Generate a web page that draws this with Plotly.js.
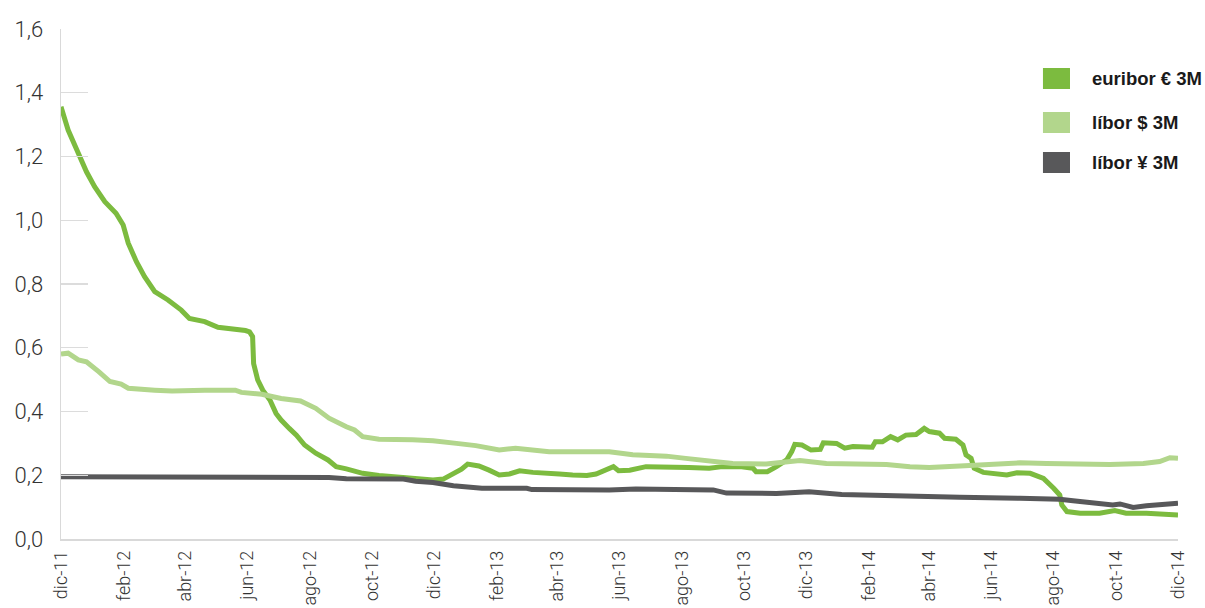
<!DOCTYPE html>
<html>
<head>
<meta charset="utf-8">
<script src="https://cdn.plot.ly/plotly-3.0.1.min.js"></script>
<style>html,body{margin:0;padding:0;background:#fff;}#chart{width:1205px;height:608px;}</style>
</head>
<body>
<div id="chart"></div>
<script>
// ---- Data ----
const seriesNames = ['euribor € 3M', 'líbor $ 3M', 'líbor ¥ 3M'];
const seriesColors = ['#7cbb3f', '#b2d68c', '#58585a'];

const euriborDates = ['2011-12-01','2011-12-08','2011-12-18','2011-12-26','2012-01-03','2012-01-13','2012-01-24','2012-01-31','2012-02-05','2012-02-13','2012-02-21','2012-03-02','2012-03-15','2012-03-28','2012-04-05','2012-04-20','2012-05-03','2012-05-16','2012-05-30','2012-06-03','2012-06-06','2012-06-07','2012-06-11','2012-06-16','2012-06-23','2012-06-29','2012-07-04','2012-07-12','2012-07-19','2012-07-27','2012-08-07','2012-08-19','2012-08-27','2012-09-06','2012-09-22','2012-10-08','2012-10-25','2012-11-13','2012-11-30','2012-12-10','2012-12-20','2012-12-28','2013-01-03','2013-01-14','2013-01-24','2013-02-03','2013-02-13','2013-02-23','2013-03-08','2013-03-24','2013-04-03','2013-04-16','2013-04-30','2013-05-09','2013-05-19','2013-05-26','2013-05-31','2013-06-11','2013-06-27','2013-07-17','2013-08-08','2013-08-28','2013-09-10','2013-09-27','2013-10-10','2013-10-13','2013-10-24','2013-11-02','2013-11-12','2013-11-17','2013-11-20','2013-11-27','2013-12-06','2013-12-15','2013-12-18','2013-12-31','2014-01-08','2014-01-16','2014-02-04','2014-02-07','2014-02-14','2014-02-22','2014-03-01','2014-03-09','2014-03-19','2014-03-27','2014-04-01','2014-04-11','2014-04-16','2014-04-27','2014-05-04','2014-05-07','2014-05-12','2014-05-15','2014-05-24','2014-06-16','2014-06-26','2014-07-09','2014-07-22','2014-08-01','2014-08-07','2014-08-09','2014-08-14','2014-08-27','2014-09-15','2014-09-30','2014-10-11','2014-10-31','2014-12-01'];
const euriborValues = [1.356,1.283,1.210,1.152,1.105,1.058,1.022,0.985,0.928,0.870,0.823,0.776,0.750,0.718,0.692,0.682,0.664,0.661,0.654,0.650,0.635,0.550,0.499,0.467,0.436,0.394,0.373,0.347,0.326,0.295,0.269,0.248,0.227,0.220,0.206,0.199,0.194,0.188,0.185,0.188,0.206,0.219,0.235,0.229,0.216,0.201,0.204,0.214,0.209,0.208,0.204,0.201,0.199,0.204,0.216,0.227,0.214,0.216,0.227,0.227,0.224,0.222,0.227,0.227,0.222,0.211,0.211,0.227,0.248,0.274,0.297,0.295,0.279,0.281,0.302,0.300,0.285,0.290,0.288,0.305,0.305,0.321,0.311,0.326,0.328,0.347,0.337,0.332,0.316,0.313,0.295,0.264,0.253,0.222,0.209,0.201,0.208,0.206,0.190,0.159,0.138,0.107,0.086,0.081,0.081,0.089,0.081,0.081,0.075];

const liborUsdDates = ['2011-12-01','2011-12-08','2011-12-18','2011-12-26','2012-01-07','2012-01-18','2012-01-29','2012-02-05','2012-03-02','2012-03-19','2012-04-20','2012-05-20','2012-05-26','2012-06-15','2012-07-04','2012-07-23','2012-08-07','2012-08-20','2012-09-06','2012-09-14','2012-09-22','2012-10-08','2012-11-10','2012-11-30','2012-12-23','2013-01-11','2013-02-03','2013-02-19','2013-03-24','2013-04-26','2013-05-22','2013-06-14','2013-07-17','2013-08-05','2013-09-03','2013-09-20','2013-10-23','2013-11-08','2013-11-25','2013-12-21','2014-01-23','2014-02-18','2014-03-13','2014-04-01','2014-05-01','2014-06-02','2014-06-29','2014-07-25','2014-08-23','2014-09-25','2014-10-28','2014-11-13','2014-11-23','2014-12-01'];
const liborUsdValues = [0.580,0.583,0.562,0.556,0.525,0.494,0.486,0.473,0.467,0.464,0.467,0.467,0.460,0.454,0.441,0.433,0.410,0.379,0.352,0.342,0.321,0.313,0.311,0.308,0.300,0.293,0.279,0.285,0.274,0.272,0.274,0.264,0.260,0.253,0.243,0.237,0.235,0.239,0.246,0.237,0.237,0.234,0.227,0.224,0.229,0.235,0.239,0.237,0.234,0.234,0.237,0.243,0.255,0.253];

const liborJpyDates = ['2011-12-01','2012-07-12','2012-08-20','2012-09-06','2012-11-01','2012-11-13','2012-11-30','2012-12-20','2012-12-29','2013-01-17','2013-03-02','2013-03-07','2013-05-22','2013-06-17','2013-09-01','2013-09-14','2013-11-02','2013-12-04','2014-01-05','2014-02-24','2014-05-01','2014-06-29','2014-08-07','2014-08-20','2014-09-08','2014-09-28','2014-10-05','2014-10-18','2014-10-31','2014-12-01'];
const liborJpyValues = [0.195,0.195,0.193,0.189,0.188,0.181,0.177,0.167,0.164,0.159,0.159,0.155,0.154,0.157,0.154,0.144,0.143,0.148,0.140,0.135,0.131,0.128,0.125,0.120,0.114,0.107,0.110,0.099,0.104,0.112];

const xTickDates = ['2011-12-01','2012-02-01','2012-04-01','2012-06-01','2012-08-01','2012-10-01','2012-12-01','2013-02-01','2013-04-01','2013-06-01','2013-08-01','2013-10-01','2013-12-01','2014-02-01','2014-04-01','2014-06-01','2014-08-01','2014-10-01','2014-12-01'];
const xTickLabels = ['dic-11','feb-12','abr-12','jun-12','ago-12','oct-12','dic-12','feb-13','abr-13','jun-13','ago-13','oct-13','dic-13','feb-14','abr-14','jun-14','ago-14','oct-14','dic-14'];
const yTickValues = [0, 0.2, 0.4, 0.6, 0.8, 1.0, 1.2, 1.4, 1.6];

// ---- Traces ----
const xs = [euriborDates, liborUsdDates, liborJpyDates];
const ys = [euriborValues, liborUsdValues, liborJpyValues];
const traces = seriesNames.map((n, i) => ({
  type: 'scatter', mode: 'lines', name: n,
  x: xs[i], y: ys[i],
  line: {color: seriesColors[i], width: 5},
  showlegend: false, hoverinfo: 'x+y'
}));

// ---- Manual legend (rectangles + labels) ----
const legX0 = 0.8791, legX1 = 0.9033;
const legTops = [0.9235, 0.8373, 0.7588];
const legH = 0.0412;
const shapes = seriesNames.map((n, i) => ({
  type: 'rect', xref: 'paper', yref: 'paper',
  x0: legX0, x1: legX1, y0: legTops[i] - legH, y1: legTops[i],
  fillcolor: seriesColors[i], line: {width: 0}
}));
const annotations = seriesNames.map((n, i) => ({
  xref: 'paper', yref: 'paper', x: 0.9212, y: legTops[i] - legH / 2,
  xanchor: 'left', yanchor: 'middle', showarrow: false, text: n,
  font: {family: 'Liberation Sans, Arial, sans-serif', size: 18.5, color: '#1a1a1a', weight: 700}
}));

const tickFont = {family: 'Roboto, Liberation Sans, sans-serif', weight: 300, color: '#333333'};

const layout = {
  width: 1205, height: 608,
  margin: {l: 61, r: 27, t: 29, b: 69, pad: 0},
  paper_bgcolor: '#ffffff', plot_bgcolor: '#ffffff',
  separators: ',.',
  showlegend: false,
  xaxis: {
    type: 'date', range: ['2011-12-01', '2014-12-01'],
    tickmode: 'array', tickvals: xTickDates, ticktext: xTickLabels,
    tickangle: -90, ticks: '', showgrid: false, zeroline: false,
    showline: true, linecolor: '#d9d9d9', linewidth: 1.5,
    ticklabelstandoff: 3,
    tickfont: Object.assign({size: 18}, tickFont), automargin: false
  },
  yaxis: {
    range: [0, 1.6], tickmode: 'array', tickvals: yTickValues, tickformat: '.1f',
    ticks: 'inside', ticklen: 27, tickcolor: '#dcdcdc', tickwidth: 1.2,
    showgrid: false, zeroline: false,
    showline: true, linecolor: '#d9d9d9', linewidth: 1.5,
    ticklabelstandoff: 12,
    tickfont: Object.assign({size: 22}, tickFont), automargin: false
  },
  shapes: shapes,
  annotations: annotations
};

Plotly.newPlot('chart', traces, layout, {displayModeBar: false, staticPlot: true});
</script>
</body>
</html>
